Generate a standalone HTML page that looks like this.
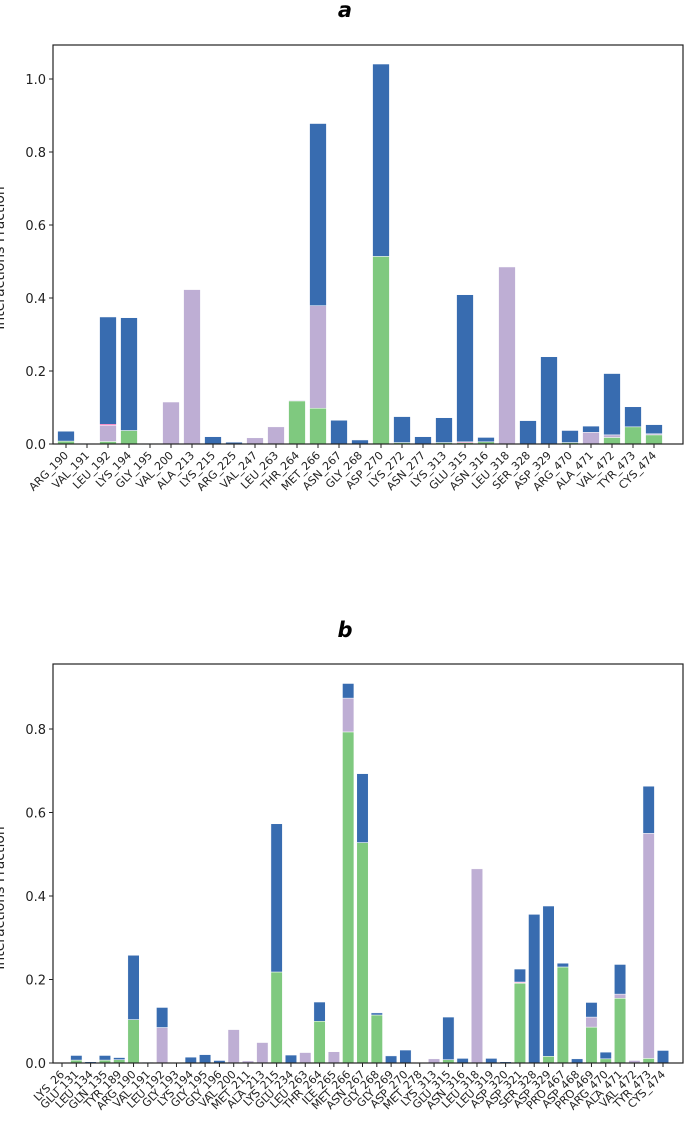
<!DOCTYPE html>
<html><head><meta charset="utf-8"><style>
body{margin:0;background:#fff;}
svg{display:block;font-family:"DejaVu Sans","Liberation Sans",sans-serif;}
</style></head><body>
<svg id="chart" width="685" height="1122" viewBox="0 0 685 1122" xmlns="http://www.w3.org/2000/svg">
<text x="345" y="17" text-anchor="middle" font-size="21" font-weight="bold" font-style="italic">a</text>
<text x="345" y="637" text-anchor="middle" font-size="21" font-weight="bold" font-style="italic">b</text>
</svg>
<script>
// Panel a data
const catsA = ["ARG_190","VAL_191","LEU_192","LYS_194","GLY_195","VAL_200","ALA_213","LYS_215","ARG_225","VAL_247","LEU_263","THR_264","MET_266","ASN_267","GLY_268","ASP_270","LYS_272","ASN_277","LYS_313","GLU_315","ASN_316","LEU_318","SER_328","ASP_329","ARG_470","ALA_471","VAL_472","TYR_473","CYS_474"];
const greenA  = [0.008,0,0.007,0.037,0,0,0,0,0,0,0,0.118,0.098,0,0,0.514,0.004,0,0.004,0.004,0.006,0,0,0,0.004,0,0.018,0.047,0.025];
const purpleA = [0,0,0.044,0,0,0.115,0.423,0,0,0.017,0.047,0.002,0.281,0,0,0,0,0,0,0,0,0.485,0,0,0,0.032,0.007,0,0.003];
const pinkA   = [0,0,0.003,0,0,0,0,0,0,0,0,0,0,0,0,0,0,0,0,0.002,0,0,0,0,0,0,0,0,0];
const blueA   = [0.027,0.002,0.294,0.309,0.002,0,0,0.02,0.005,0,0,0,0.499,0.065,0.011,0.527,0.071,0.02,0.068,0.403,0.012,0,0.064,0.239,0.033,0.017,0.168,0.055,0.025];
const ticksA = [0,0.2,0.4,0.6,0.8,1.0];
// Panel b data
const catsB = ["LYS_26","GLU_131","LEU_134","GLN_135","TYR_189","ARG_190","VAL_191","LEU_192","GLY_193","LYS_194","GLY_195","GLY_196","VAL_200","MET_211","ALA_213","LYS_215","GLU_234","LEU_263","THR_264","ILE_265","MET_266","ASN_267","GLY_268","GLY_269","ASP_270","MET_278","LYS_313","GLU_315","ASN_316","LEU_318","LEU_319","ASP_320","ASP_321","SER_328","ASP_329","PRO_467","ASP_468","PRO_469","ARG_470","ALA_471","VAL_472","TYR_473","CYS_474"];
const greenB  = [0,0.007,0,0.007,0.008,0.104,0,0,0,0,0,0,0,0,0,0.218,0,0,0.1,0,0.793,0.528,0.115,0,0,0,0,0.008,0,0,0,0,0.191,0,0.016,0.23,0,0.086,0.01,0.155,0,0.011,0];
const purpleB = [0,0,0,0,0,0,0,0.085,0,0,0,0,0.08,0.005,0.049,0,0,0.025,0,0.027,0.081,0,0,0,0,0,0.01,0,0,0.465,0,0,0.001,0,0,0,0,0.024,0,0.01,0.006,0.539,0];
const pinkB   = [0,0,0,0,0,0,0,0,0,0,0,0,0,0,0,0,0,0,0,0,0,0,0,0,0,0,0,0,0,0,0,0,0.002,0,0,0,0,0,0,0,0,0,0];
const blueB   = [0,0.011,0.003,0.011,0.005,0.154,0.002,0.048,0,0.014,0.02,0.006,0,0,0,0.355,0.019,0,0.046,0,0.035,0.165,0.005,0.017,0.031,0,0,0.102,0.011,0,0.011,0.003,0.031,0.356,0.36,0.009,0.01,0.035,0.016,0.071,0,0.113,0.03];
const ticksB = [0,0.2,0.4,0.6,0.8];

const NS="http://www.w3.org/2000/svg";
const svg=document.getElementById('chart');
const colors=["#7fc97f","#beaed4","#f0027f","#386cb0"];
function mk(tag,attrs){const e=document.createElementNS(NS,tag);for(const k in attrs)e.setAttribute(k,attrs[k]);svg.appendChild(e);return e;}

function panel(p,cats,series,ticks,L,R,T,B,pxPerUnit,labelY,padL,padR){
  const x0=L+padL, x1=R-padR;
  const dx=(x1-x0)/(cats.length-1);
  const bw=dx*0.8;
  const xs=i=>x0+i*dx;
  const ys=v=>B-v*pxPerUnit;
  cats.forEach((c,i)=>{
    let acc=0;
    series.forEach((s,k)=>{
      const v=s[i]; if(v<=0)return;
      const r=mk('rect',{x:xs(i)-bw/2,y:ys(acc+v),width:bw,height:v*pxPerUnit,fill:colors[k],stroke:"#ffffff","stroke-width":0.5});
      
      
      acc+=v;
    });
    const tk=mk('line',{x1:xs(i),x2:xs(i),y1:B,y2:B+4,stroke:"#222","stroke-width":1});
    
    
    const t=mk('text',{x:xs(i)+3,y:B+12,"font-size":11,"text-anchor":"end",fill:"#222",transform:`rotate(-45 ${xs(i)+3} ${B+12})`});
    t.textContent=c;
    
    
  });
  ticks.forEach(v=>{
    const l=mk('line',{x1:L-4,x2:L,y1:ys(v),y2:ys(v),stroke:"#222","stroke-width":1});
    
    
    const t=mk('text',{x:L-7,y:ys(v)+5,"font-size":13,"text-anchor":"end",fill:"#222"});
    t.textContent=v.toFixed(1);
    
    
  });
  const f=mk('rect',{x:L,y:T,width:R-L,height:B-T,fill:"none",stroke:"#222","stroke-width":1.2});
  
  
  const yl=mk('text',{x:4,y:labelY,"font-size":14,"text-anchor":"middle",fill:"#222",transform:`rotate(-90 4 ${labelY})`});
  yl.textContent="Interactions Fraction";
  
  
}
panel('a',catsA,[greenA,purpleA,pinkA,blueA],ticksA,53,683,45,444,365,258,13,29);
panel('b',catsB,[greenB,purpleB,pinkB,blueB],ticksB,53,683,664,1063,417.5,898,9,20);
</script>
</body></html>
